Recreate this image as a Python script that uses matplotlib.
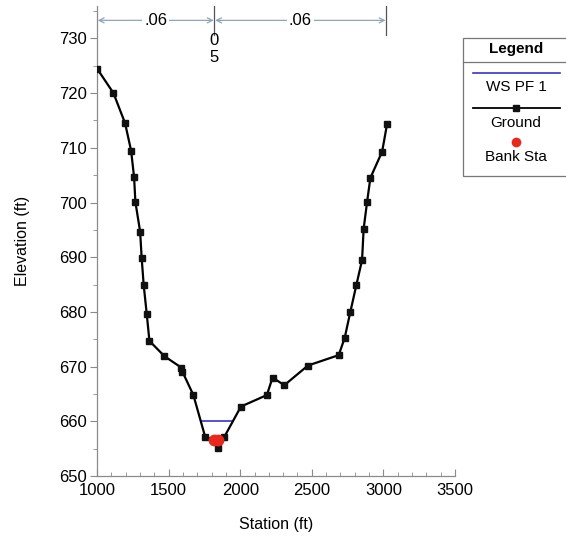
import matplotlib
matplotlib.use("Agg")
import matplotlib.pyplot as plt
from matplotlib.ticker import MultipleLocator
from matplotlib.lines import Line2D
from matplotlib.patches import Rectangle

plt.rcParams['font.family'] = ['Liberation Sans', 'DejaVu Sans']

# ground profile (station ft, elevation ft)
ground_sta = [1000, 1115, 1196, 1238, 1259, 1268, 1301, 1312, 1326, 1347, 1366,
              1471, 1590, 1596, 1673, 1755, 1815, 1844, 1848, 1890, 2005, 2186,
              2226, 2308, 2473, 2688, 2730, 2769, 2811, 2851, 2862, 2886, 2909,
              2991, 3026]
ground_elev = [724.5, 720.0, 714.5, 709.5, 704.6, 700.1, 694.7, 689.8, 684.9, 679.7, 674.7,
               671.9, 669.8, 669.1, 664.8, 657.2, 656.6, 655.2, 656.5, 657.2, 662.7, 664.8,
               668.0, 666.6, 670.2, 672.1, 675.3, 680.0, 684.9, 689.5, 695.2, 700.1, 704.5,
               709.3, 714.4]

# water surface PF 1
ws_sta = [1725, 1948]
ws_elev = [660.0, 660.0]

# bank stations
bank_sta = [1815, 1848]
bank_elev = [656.6, 656.5]

# Manning's n breaks and values
n_breaks = [1000, 1820, 3020]
n_values = ['.06', '.06']

fig = plt.figure(figsize=(5.66, 5.38), dpi=100)
ax = fig.add_axes([0.1714, 0.1152, 0.6325, 0.8744])

ax.plot(ws_sta, ws_elev, color='#3535c8', lw=1.2, zorder=2)
ax.plot(ground_sta, ground_elev, color='black', lw=1.6, marker='s', ms=5,
        mfc='#111111', mec='#111111', zorder=3)
ax.plot(bank_sta, bank_elev, 'o', color='#e8281c', ms=8.5, mec='none', zorder=4)

ax.set_xlim(1000, 3500)
ax.set_ylim(650, 736)
ax.set_yticks(range(650, 731, 10))
ax.set_xticks(range(1000, 3501, 500))
ax.xaxis.set_minor_locator(MultipleLocator(100))
ax.yaxis.set_minor_locator(MultipleLocator(5))

for s in ['top', 'right']:
    ax.spines[s].set_visible(False)
for s in ['left', 'bottom']:
    ax.spines[s].set_color('#8a8a8a')
    ax.spines[s].set_linewidth(0.9)

ax.tick_params(axis='x', which='major', direction='in', length=5, color='#8a8a8a', labelsize=12, pad=5)
ax.tick_params(axis='x', which='minor', direction='in', length=3, color='#8a8a8a')
ax.tick_params(axis='y', which='major', direction='out', length=5, color='#8a8a8a', labelsize=12, pad=2)
ax.tick_params(axis='y', which='minor', direction='out', length=3, color='#8a8a8a')

ax.set_xlabel('Station (ft)', fontsize=11.5, labelpad=14)
ax.set_ylabel('Elevation (ft)', fontsize=11.5, labelpad=21)

# Manning's n annotation across the top
arrow_y = 733.3
for xb in n_breaks[1:]:
    ax.plot([xb, xb], [730.6, 736], color='#555555', lw=0.9, clip_on=False)
for i, nv in enumerate(n_values):
    x0, x1 = n_breaks[i], n_breaks[i + 1]
    ax.annotate('', xy=(x0 + 5, arrow_y), xytext=(x1 - 5, arrow_y),
                arrowprops=dict(arrowstyle='<->', color='#8fa6b6', lw=0.9,
                                shrinkA=0, shrinkB=0, mutation_scale=9))
    ax.text((x0 + x1) / 2, arrow_y, nv, ha='center', va='center', fontsize=12,
            bbox=dict(facecolor='white', edgecolor='none', pad=1.5))
ax.text(n_breaks[1], 729.6, '0', ha='center', va='center', fontsize=12)
ax.text(n_breaks[1], 726.6, '5', ha='center', va='center', fontsize=12)

# legend box drawn in figure coordinates
W, H = 566, 538
def fx(px):
    return px / W
def fy(py):
    return 1 - py / H

fig.patches.append(Rectangle((fx(463), fy(176)), fx(110), fy(38) - fy(176),
                             transform=fig.transFigure, facecolor='white',
                             edgecolor='#777777', lw=0.9))
fig.lines.append(Line2D([fx(463), fx(566)], [fy(62), fy(62)], transform=fig.transFigure,
                        color='#777777', lw=0.9))
fig.text(fx(516), fy(49), 'Legend', ha='center', va='center', fontsize=11, fontweight='bold')
fig.lines.append(Line2D([fx(473), fx(560)], [fy(73), fy(73)], transform=fig.transFigure,
                        color='#3535c8', lw=1.2))
fig.text(fx(516), fy(87), 'WS PF 1', ha='center', va='center', fontsize=11)
fig.lines.append(Line2D([fx(473), fx(560)], [fy(108), fy(108)], transform=fig.transFigure,
                        color='black', lw=1.3))
fig.lines.append(Line2D([fx(516)], [fy(108)], transform=fig.transFigure, marker='s',
                        ms=4.5, color='#111111', lw=0))
fig.text(fx(516), fy(123), 'Ground', ha='center', va='center', fontsize=11)
fig.lines.append(Line2D([fx(516)], [fy(142)], transform=fig.transFigure, marker='o',
                        ms=7, color='#e8281c', mec='none', lw=0))
fig.text(fx(516), fy(157), 'Bank Sta', ha='center', va='center', fontsize=11)

fig.savefig('out.png', dpi=100)
